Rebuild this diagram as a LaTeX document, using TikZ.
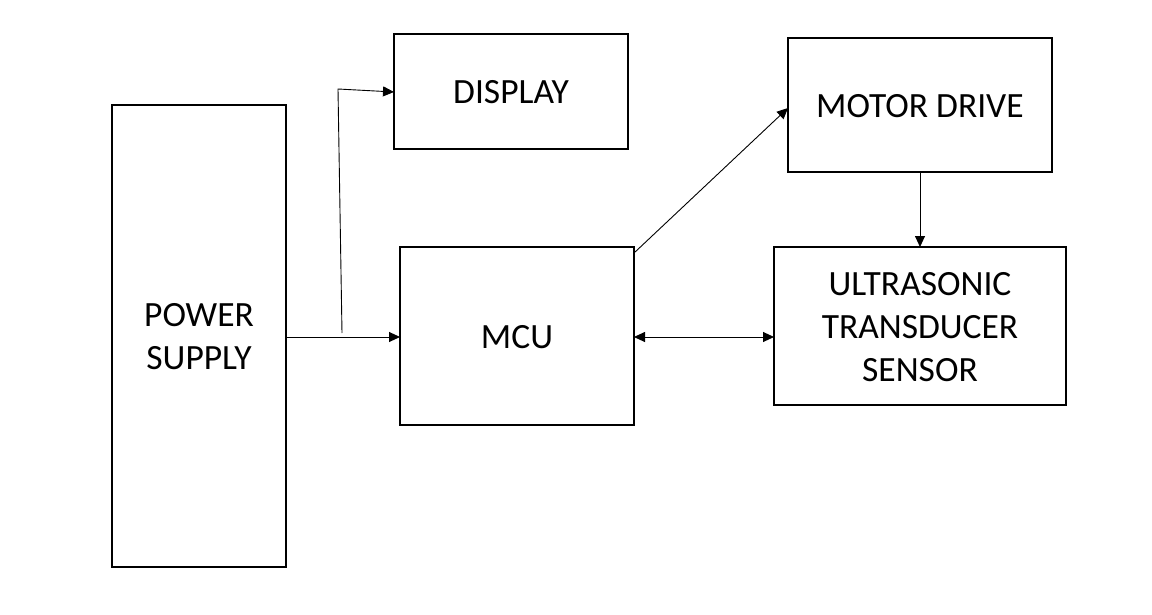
\documentclass[tikz,border=0pt]{standalone}
\usepackage{fontspec}
\setmainfont{Carlito}
\usetikzlibrary{arrows.meta}
\begin{document}
\begin{tikzpicture}[x=1pt,y=-1pt,
  blk/.style={draw,line width=1.6pt,inner sep=0pt},
  lbl/.style={font=\fontsize{35.5}{43}\selectfont,align=center},
  conn/.style={line width=0.9pt,-{Triangle[length=11pt,width=10pt]}},
  bconn/.style={line width=0.9pt,{Triangle[length=11pt,width=10pt]}-{Triangle[length=11pt,width=10pt]}}]
\useasboundingbox[fill=white] (0,0) rectangle (1152,615);
\draw[blk] (112,105) rectangle (286,567);
\node[lbl] (ps) at (199,337) {POWER\\SUPPLY};
\coordinate (psE) at (286,337);
\draw[blk] (394,34) rectangle (628,149);
\node[lbl] (disp) at (511,92) {DISPLAY};
\coordinate (dispW) at (394,92);
\draw[blk] (400,247) rectangle (634,425);
\node[lbl] (mcu) at (517,337) {MCU};
\coordinate (mcuW) at (400,337);
\coordinate (mcuE) at (634,337);
\coordinate (mcuNE) at (634,253);
\draw[blk] (788,38) rectangle (1052,172);
\node[lbl] (md) at (920,106) {MOTOR DRIVE};
\coordinate (mdW) at (788,108);
\coordinate (mdS) at (920,172);
\draw[blk] (774,247) rectangle (1066,405);
\node[lbl] (us) at (920,327) {ULTRASONIC\\TRANSDUCER\\SENSOR};
\coordinate (usN) at (920,247);
\coordinate (usW) at (774,337);
\coordinate (j1) at (342,333);
\coordinate (j2) at (338,89);
\draw[conn] (psE) -- (mcuW);
\draw[conn] (j1) -- (j2) -- (dispW);
\draw[conn] (mcuNE) -- (mdW);
\draw[conn] (mdS) -- (usN);
\draw[bconn] (mcuE) -- (usW);
\end{tikzpicture}
\end{document}
